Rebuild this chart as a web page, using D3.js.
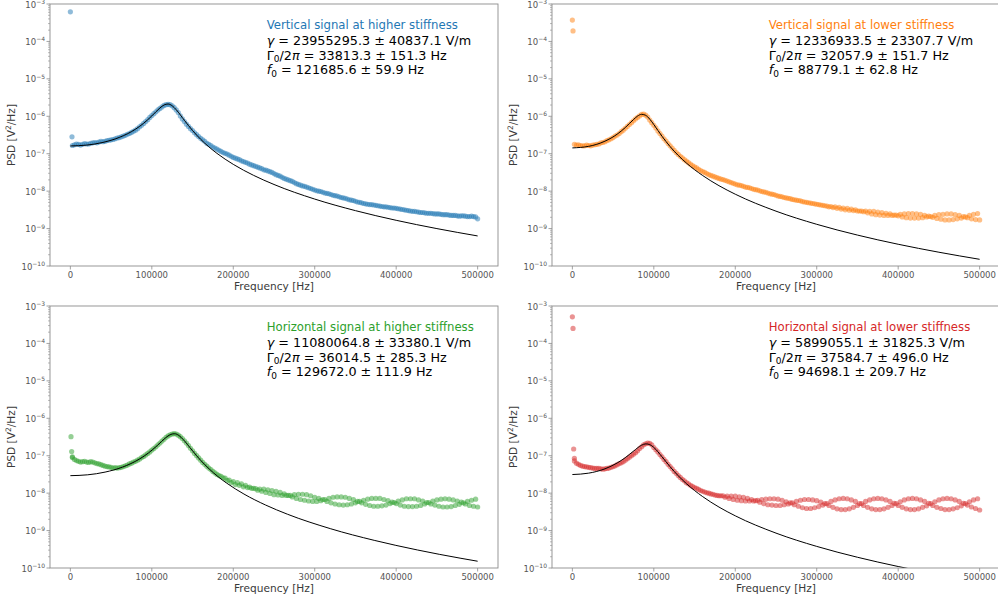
<!DOCTYPE html>
<html>
<head>
<meta charset="utf-8">
<script src="https://cdn.jsdelivr.net/npm/d3@7"></script>
<style>
  body { margin: 0; background: #fff; }
  svg { display: block; font-family: "DejaVu Sans", sans-serif; }
</style>
</head>
<body>
<div id="chart"></div>
<script>
// frequency grids of the two interleaved point sets (Hz)
var freqA = d3.range(5000, 500001, 5000);   // 5 kHz .. 500 kHz
var freqB = d3.range(2500, 500000, 5000);   // 2.5 kHz .. 497.5 kHz

// ---- values are log10(PSD [V^2/Hz]) ----

// Vertical, higher stiffness
var vertHighLowF = [0, 2000];
var vertHighLowV = [-3.21, -6.55];
var vertHighA = [-6.76,-6.75,-6.75,-6.74,-6.72,-6.70,-6.69,-6.68,-6.65,-6.63,
  -6.60,-6.57,-6.53,-6.48,-6.43,-6.37,-6.28,-6.19,-6.09,-5.98,
  -5.88,-5.79,-5.71,-5.68,-5.72,-5.83,-5.99,-6.14,-6.27,-6.38,
  -6.49,-6.59,-6.67,-6.75,-6.82,-6.88,-6.94,-6.99,-7.04,-7.10,
  -7.14,-7.19,-7.23,-7.28,-7.32,-7.36,-7.40,-7.44,-7.48,-7.53,
  -7.58,-7.63,-7.68,-7.72,-7.77,-7.82,-7.86,-7.89,-7.93,-7.97,
  -8.00,-8.03,-8.06,-8.09,-8.12,-8.15,-8.18,-8.21,-8.24,-8.27,
  -8.30,-8.33,-8.35,-8.36,-8.38,-8.40,-8.42,-8.43,-8.45,-8.46,
  -8.48,-8.50,-8.52,-8.54,-8.55,-8.57,-8.58,-8.59,-8.60,-8.61,
  -8.62,-8.63,-8.64,-8.65,-8.66,-8.66,-8.67,-8.68,-8.68,-8.74];
var vertHighB = [-6.78,-6.74,-6.77,-6.73,-6.74,-6.71,-6.71,-6.67,-6.67,-6.64,
  -6.62,-6.58,-6.55,-6.51,-6.46,-6.40,-6.33,-6.24,-6.14,-6.03,
  -5.93,-5.83,-5.75,-5.69,-5.69,-5.77,-5.90,-6.07,-6.21,-6.33,
  -6.44,-6.54,-6.63,-6.72,-6.78,-6.85,-6.91,-6.97,-7.01,-7.07,
  -7.12,-7.16,-7.21,-7.25,-7.30,-7.34,-7.38,-7.43,-7.46,-7.50,
  -7.56,-7.60,-7.66,-7.70,-7.74,-7.80,-7.84,-7.87,-7.91,-7.95,
  -7.99,-8.01,-8.05,-8.07,-8.11,-8.13,-8.17,-8.19,-8.23,-8.25,
  -8.29,-8.31,-8.34,-8.36,-8.37,-8.39,-8.41,-8.42,-8.44,-8.45,
  -8.47,-8.49,-8.51,-8.53,-8.54,-8.56,-8.57,-8.59,-8.59,-8.61,
  -8.61,-8.63,-8.63,-8.65,-8.65,-8.67,-8.66,-8.68,-8.67,-8.69];
var vertHighFitF = [0,20,40,60,80,90,100,110,115,120,125,130,140,150,160,170,180,200,225,250,300,350,400,450,500];
var vertHighFitV = [-6.793,-6.770,-6.698,-6.565,-6.344,-6.186,-5.990,-5.777,-5.698,-5.672,-5.719,-5.826,-6.108,
  -6.380,-6.615,-6.816,-6.991,-7.284,-7.579,-7.822,-8.212,-8.521,-8.779,-9.001,-9.197];

// Vertical, lower stiffness
var vertLowLowF = [0, 800];
var vertLowLowV = [-3.43, -3.72];
var vertLowA = [-6.77,-6.78,-6.79,-6.78,-6.77,-6.75,-6.71,-6.68,-6.63,-6.57,
  -6.50,-6.41,-6.32,-6.22,-6.12,-6.03,-5.95,-5.97,-6.10,-6.24,
  -6.39,-6.53,-6.66,-6.79,-6.91,-7.02,-7.11,-7.20,-7.28,-7.35,
  -7.42,-7.48,-7.53,-7.58,-7.62,-7.66,-7.69,-7.73,-7.77,-7.81,
  -7.84,-7.87,-7.90,-7.93,-7.96,-7.99,-8.02,-8.05,-8.08,-8.11,
  -8.14,-8.17,-8.19,-8.22,-8.24,-8.26,-8.29,-8.31,-8.33,-8.35,
  -8.37,-8.39,-8.42,-8.44,-8.46,-8.48,-8.50,-8.51,-8.52,-8.53,
  -8.53,-8.53,-8.54,-8.54,-8.56,-8.57,-8.59,-8.61,-8.64,-8.66,
  -8.69,-8.71,-8.72,-8.72,-8.72,-8.71,-8.69,-8.68,-8.65,-8.63,
  -8.62,-8.61,-8.61,-8.63,-8.65,-8.68,-8.71,-8.74,-8.76,-8.77];
var vertLowB = [-6.75,-6.76,-6.79,-6.77,-6.79,-6.76,-6.74,-6.70,-6.65,-6.60,
  -6.53,-6.46,-6.37,-6.27,-6.17,-6.07,-5.99,-5.94,-6.02,-6.17,
  -6.31,-6.46,-6.60,-6.73,-6.85,-6.97,-7.07,-7.16,-7.24,-7.32,
  -7.38,-7.45,-7.50,-7.56,-7.60,-7.64,-7.68,-7.71,-7.75,-7.79,
  -7.83,-7.85,-7.89,-7.91,-7.95,-7.97,-8.01,-8.03,-8.07,-8.09,
  -8.13,-8.15,-8.18,-8.20,-8.23,-8.25,-8.28,-8.30,-8.32,-8.34,
  -8.36,-8.38,-8.40,-8.41,-8.42,-8.43,-8.45,-8.46,-8.48,-8.50,
  -8.53,-8.55,-8.58,-8.61,-8.63,-8.64,-8.65,-8.65,-8.65,-8.64,
  -8.62,-8.61,-8.60,-8.60,-8.61,-8.62,-8.65,-8.67,-8.70,-8.73,
  -8.75,-8.77,-8.77,-8.76,-8.74,-8.72,-8.69,-8.65,-8.62,-8.60];
var vertLowFitF = [0,20,40,55,65,75,80,85,90,95,100,110,120,130,140,160,180,200,250,300,350,400,450,500];
var vertLowFitV = [-6.845,-6.803,-6.665,-6.478,-6.300,-6.088,-5.995,-5.947,-5.974,-6.076,-6.221,-6.532,
  -6.810,-7.046,-7.249,-7.583,-7.854,-8.082,-8.535,-8.886,-9.174,-9.419,-9.632,-9.821];

// Horizontal, higher stiffness
var horHighLowF = [800, 1600, 2500];
var horHighLowV = [-6.49, -6.89, -7.03];
var horHighA = [-7.10,-7.15,-7.16,-7.17,-7.16,-7.19,-7.22,-7.26,-7.29,-7.31,
  -7.32,-7.32,-7.29,-7.25,-7.20,-7.15,-7.09,-7.02,-6.94,-6.85,
  -6.76,-6.66,-6.56,-6.47,-6.42,-6.42,-6.49,-6.60,-6.73,-6.87,
  -7.00,-7.12,-7.23,-7.33,-7.42,-7.50,-7.55,-7.60,-7.65,-7.69,
  -7.72,-7.75,-7.79,-7.84,-7.87,-7.92,-7.95,-7.98,-8.01,-8.04,
  -8.05,-8.06,-8.06,-8.06,-8.04,-8.03,-8.03,-8.04,-8.07,-8.11,
  -8.14,-8.17,-8.22,-8.26,-8.29,-8.31,-8.32,-8.31,-8.29,-8.26,
  -8.22,-8.19,-8.16,-8.14,-8.14,-8.14,-8.17,-8.20,-8.24,-8.28,
  -8.32,-8.35,-8.36,-8.36,-8.35,-8.33,-8.29,-8.25,-8.21,-8.18,
  -8.16,-8.15,-8.16,-8.18,-8.21,-8.24,-8.29,-8.33,-8.35,-8.37];
var horHighB = [-7.05,-7.13,-7.17,-7.15,-7.18,-7.17,-7.21,-7.24,-7.28,-7.30,
  -7.33,-7.33,-7.31,-7.27,-7.22,-7.17,-7.12,-7.05,-6.98,-6.90,
  -6.81,-6.71,-6.61,-6.51,-6.44,-6.41,-6.45,-6.54,-6.66,-6.80,
  -6.94,-7.06,-7.18,-7.28,-7.37,-7.46,-7.53,-7.59,-7.66,-7.72,
  -7.77,-7.79,-7.83,-7.85,-7.87,-7.88,-7.89,-7.89,-7.91,-7.93,
  -7.95,-7.98,-8.02,-8.06,-8.10,-8.14,-8.17,-8.19,-8.21,-8.22,
  -8.22,-8.20,-8.17,-8.14,-8.11,-8.10,-8.10,-8.11,-8.14,-8.17,
  -8.22,-8.26,-8.30,-8.33,-8.35,-8.35,-8.34,-8.32,-8.28,-8.25,
  -8.21,-8.18,-8.15,-8.15,-8.15,-8.18,-8.21,-8.25,-8.29,-8.32,
  -8.35,-8.37,-8.37,-8.36,-8.33,-8.30,-8.26,-8.22,-8.19,-8.16];
var horHighFitF = [0,21.3,42.6,63.9,85.2,95.9,106.6,117.2,122.5,127.9,133.2,138.5,149.2,159.8,170.5,181.1,191.8,
  213.1,239.8,266.4,319.7,373.0,426.2,479.5,500];
var horHighFitV = [-7.533,-7.510,-7.438,-7.305,-7.084,-6.926,-6.730,-6.517,-6.438,-6.412,-6.459,-6.566,-6.848,
  -7.120,-7.355,-7.556,-7.731,-8.024,-8.319,-8.562,-8.952,-9.261,-9.519,-9.741,-9.819];

// Horizontal, lower stiffness
var horLowLowF = [0, 800, 1600, 2500];
var horLowLowV = [-3.29, -3.60, -6.82, -7.07];
var horLowA = [-7.20,-7.26,-7.29,-7.31,-7.33,-7.34,-7.35,-7.35,-7.33,-7.29,
  -7.24,-7.19,-7.12,-7.04,-6.96,-6.87,-6.76,-6.68,-6.67,-6.78,
  -6.90,-7.03,-7.16,-7.29,-7.42,-7.53,-7.63,-7.72,-7.79,-7.85,
  -7.90,-7.95,-7.99,-8.02,-8.05,-8.07,-8.07,-8.08,-8.08,-8.08,
  -8.10,-8.11,-8.14,-8.17,-8.20,-8.24,-8.28,-8.31,-8.32,-8.33,
  -8.33,-8.31,-8.29,-8.26,-8.22,-8.19,-8.17,-8.17,-8.18,-8.20,
  -8.24,-8.28,-8.33,-8.38,-8.42,-8.44,-8.44,-8.42,-8.38,-8.33,
  -8.28,-8.22,-8.18,-8.15,-8.14,-8.15,-8.18,-8.22,-8.27,-8.33,
  -8.38,-8.42,-8.44,-8.44,-8.42,-8.38,-8.34,-8.28,-8.23,-8.18,
  -8.15,-8.14,-8.15,-8.18,-8.22,-8.27,-8.32,-8.37,-8.41,-8.45];
var horLowB = [-7.14,-7.23,-7.28,-7.30,-7.32,-7.34,-7.34,-7.36,-7.34,-7.31,
  -7.27,-7.21,-7.16,-7.08,-7.00,-6.92,-6.81,-6.71,-6.66,-6.71,
  -6.84,-6.97,-7.10,-7.23,-7.35,-7.47,-7.58,-7.67,-7.75,-7.82,
  -7.87,-7.93,-7.97,-8.00,-8.03,-8.06,-8.07,-8.11,-8.14,-8.17,
  -8.19,-8.20,-8.21,-8.21,-8.21,-8.19,-8.17,-8.16,-8.15,-8.15,
  -8.16,-8.19,-8.23,-8.26,-8.31,-8.35,-8.39,-8.41,-8.41,-8.39,
  -8.36,-8.32,-8.28,-8.22,-8.18,-8.15,-8.14,-8.15,-8.18,-8.22,
  -8.28,-8.33,-8.38,-8.42,-8.44,-8.44,-8.42,-8.38,-8.33,-8.28,
  -8.23,-8.18,-8.15,-8.14,-8.15,-8.18,-8.22,-8.27,-8.33,-8.38,
  -8.41,-8.44,-8.44,-8.42,-8.39,-8.34,-8.28,-8.23,-8.18,-8.15];
var horLowFitF = [0,20,40,55,65,75,85,90,95,100,110,120,130,140,160,180,200,250,300,350,400,450,500];
var horLowFitV = [-7.503,-7.466,-7.350,-7.195,-7.052,-6.879,-6.719,-6.684,-6.703,-6.779,-7.027,-7.295,
  -7.536,-7.746,-8.093,-8.372,-8.606,-9.068,-9.423,-9.713,-9.960,-10.174,-10.364];

// legend texts
var titles = ["Vertical signal at higher stiffness", "Vertical signal at lower stiffness",
  "Horizontal signal at higher stiffness", "Horizontal signal at lower stiffness"];
var gammaText = ["23955295.3 \u00b1 40837.1 V/m", "12336933.5 \u00b1 23307.7 V/m",
  "11080064.8 \u00b1 33380.1 V/m", "5899055.1 \u00b1 31825.3 V/m"];
var widthText = ["33813.3 \u00b1 151.3 Hz", "32057.9 \u00b1 151.7 Hz",
  "36014.5 \u00b1 285.3 Hz", "37584.7 \u00b1 496.0 Hz"];
var freqText = ["121685.6 \u00b1 59.9 Hz", "88779.1 \u00b1 62.8 Hz",
  "129672.0 \u00b1 111.9 Hz", "94698.1 \u00b1 209.7 Hz"];
var colors = ["#1f77b4", "#ff7f0e", "#2ca02c", "#d62728"];

var xTicks = [0, 100000, 200000, 300000, 400000, 500000];
var yExps = [-10, -9, -8, -7, -6, -5, -4, -3];

var panels = [
  { left: 50,  top: 4,   a: vertHighA, b: vertHighB, lowF: vertHighLowF, lowV: vertHighLowV, fitF: vertHighFitF, fitV: vertHighFitV },
  { left: 552, top: 4,   a: vertLowA,  b: vertLowB,  lowF: vertLowLowF,  lowV: vertLowLowV,  fitF: vertLowFitF,  fitV: vertLowFitV },
  { left: 50,  top: 306, a: horHighA,  b: horHighB,  lowF: horHighLowF,  lowV: horHighLowV,  fitF: horHighFitF,  fitV: horHighFitV },
  { left: 552, top: 306, a: horLowA,   b: horLowB,   lowF: horLowLowF,   lowV: horLowLowV,   fitF: horLowFitF,   fitV: horLowFitV }
];

var width = 448, height = 262;
var spineColor = "#8c8c8c", tickText = "#555", labelText = "#3a3a3a";

var svg = d3.select("#chart").append("svg")
    .attr("width", 998)
    .attr("height", 600);

var x = d3.scaleLinear().domain([-25000, 525000]).range([0, width]);
var y = d3.scaleLog().domain([1e-10, 1e-3]).range([height, 0]);

panels.forEach(function (p, i) {
    var g = svg.append("g").attr("transform", "translate(" + p.left + "," + p.top + ")");

    g.append("defs").append("clipPath")
        .attr("id", "clip" + i)
        .append("rect")
        .attr("width", width)
        .attr("height", height);

    // points
    var pts = [];
    p.lowF.forEach(function (f, k) { pts.push([f, Math.pow(10, p.lowV[k])]); });
    freqA.forEach(function (f, k) { pts.push([f, Math.pow(10, p.a[k])]); });
    freqB.forEach(function (f, k) { pts.push([f, Math.pow(10, p.b[k])]); });

    var plot = g.append("g").attr("clip-path", "url(#clip" + i + ")");
    plot.selectAll("circle")
        .data(pts)
        .enter()
        .append("circle")
        .attr("cx", function (d) { return x(d[0]); })
        .attr("cy", function (d) { return y(d[1]); })
        .attr("r", 2.6)
        .style("fill", colors[i])
        .style("fill-opacity", 0.5);

    // fit line
    var fit = p.fitF.map(function (f, k) { return [f * 1000, Math.pow(10, p.fitV[k])]; });
    plot.append("path")
        .datum(fit)
        .attr("fill", "none")
        .attr("stroke", "#000")
        .attr("stroke-width", 1)
        .attr("d", d3.line()
            .x(function (d) { return x(d[0]); })
            .y(function (d) { return y(d[1]); })
            .curve(d3.curveMonotoneX));

    // frame
    g.append("rect")
        .attr("width", width)
        .attr("height", height)
        .attr("fill", "none")
        .attr("stroke", spineColor)
        .attr("stroke-width", 0.9);

    // x axis ticks
    g.selectAll(".xt").data(xTicks).enter().append("line")
        .attr("x1", function (d) { return x(d); })
        .attr("x2", function (d) { return x(d); })
        .attr("y1", height)
        .attr("y2", height + 3.5)
        .attr("stroke", spineColor)
        .attr("stroke-width", 0.8);
    g.selectAll(".xl").data(xTicks).enter().append("text")
        .attr("x", function (d) { return x(d); })
        .attr("y", height + 11.5)
        .attr("text-anchor", "middle")
        .style("font-size", "8.5px")
        .style("fill", tickText)
        .text(function (d) { return d3.format("d")(d); });

    g.append("text")
        .attr("x", width / 2)
        .attr("y", height + 23.5)
        .attr("text-anchor", "middle")
        .style("font-size", "10.6px")
        .style("fill", labelText)
        .text("Frequency [Hz]");

    // y axis: major and minor ticks
    var minor = [];
    yExps.slice(0, -1).forEach(function (e) {
        for (var m = 2; m < 10; m++) minor.push(m * Math.pow(10, e));
    });
    g.selectAll(".ym").data(minor).enter().append("line")
        .attr("x1", 0).attr("x2", -2)
        .attr("y1", function (d) { return y(d); })
        .attr("y2", function (d) { return y(d); })
        .attr("stroke", spineColor)
        .attr("stroke-width", 0.6);
    g.selectAll(".yt").data(yExps).enter().append("line")
        .attr("x1", 0).attr("x2", -3.5)
        .attr("y1", function (d) { return y(Math.pow(10, d)); })
        .attr("y2", function (d) { return y(Math.pow(10, d)); })
        .attr("stroke", spineColor)
        .attr("stroke-width", 0.8);
    var yl = g.selectAll(".yl").data(yExps).enter().append("text")
        .attr("x", -5)
        .attr("y", function (d) { return y(Math.pow(10, d)) + 3.5; })
        .attr("text-anchor", "end")
        .style("font-size", "8.5px")
        .style("fill", tickText);
    yl.append("tspan").text("10");
    yl.append("tspan")
        .attr("dy", -3.5)
        .style("font-size", "6px")
        .text(function (d) { return "\u2212" + (-d); });

    var ylab = g.append("text")
        .attr("transform", "translate(-35," + (height / 2) + ") rotate(-90)")
        .attr("text-anchor", "middle")
        .style("font-size", "10.6px")
        .style("fill", labelText);
    ylab.append("tspan").text("PSD [V");
    ylab.append("tspan").attr("dy", -4).style("font-size", "7.5px").text("2");
    ylab.append("tspan").attr("dy", 4).text("/Hz]");

    // legend text
    var tx = 216.7;
    g.append("text")
        .attr("x", tx).attr("y", 24.5)
        .style("font-size", "11.7px")
        .style("fill", colors[i])
        .text(titles[i]);

    var t1 = g.append("text").attr("x", tx).attr("y", 41.2).style("font-size", "12.75px").style("fill", "#000");
    t1.append("tspan").style("font-style", "italic").text("\u03b3");
    t1.append("tspan").text(" = " + gammaText[i]);

    var t2 = g.append("text").attr("x", tx).attr("y", 55.6).style("font-size", "12.75px").style("fill", "#000");
    t2.append("tspan").text("\u0393");
    t2.append("tspan").attr("dy", 2.5).style("font-size", "9px").text("0");
    t2.append("tspan").attr("dy", -2.5).text("/2");
    t2.append("tspan").style("font-style", "italic").text("\u03c0");
    t2.append("tspan").text(" = " + widthText[i]);

    var t3 = g.append("text").attr("x", tx).attr("y", 70).style("font-size", "12.75px").style("fill", "#000");
    t3.append("tspan").style("font-style", "italic").text("f");
    t3.append("tspan").attr("dy", 2.5).style("font-size", "9px").text("0");
    t3.append("tspan").attr("dy", -2.5).text(" = " + freqText[i]);
});
</script>
</body>
</html>
